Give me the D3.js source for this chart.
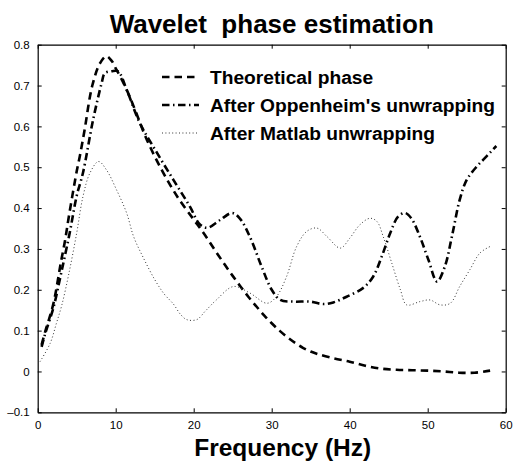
<!DOCTYPE html>
<html><head><meta charset="utf-8">
<script src="https://cdn.jsdelivr.net/npm/d3@7"></script>
<style>body{margin:0;background:#fff}svg{display:block}text{font-family:"Liberation Sans",Arial,Helvetica,sans-serif}</style>
</head><body>
<svg id="chart" width="523" height="465"></svg>
<script>
const xTicks = [0,10,20,30,40,50,60];
const yTicks = [-0.1,0,0.1,0.2,0.3,0.4,0.5,0.6,0.7,0.8];

const theoFreq = [0.5,1,2,3,3.5,4,5,5.4,6,7,8,8.8,9.5,10,10.55,11.4,12.3,14,16,18,20,21,22,23,24,25,26,27,28,29,30,31,32,33,34,35,36,38,40,42,44,46,48,50,52,54,56,58];
const theoVal  = [0.065,0.1,0.165,0.27,0.32,0.38,0.49,0.527,0.59,0.70,0.755,0.772,0.76,0.742,0.723,0.69,0.649,0.567,0.49,0.425,0.372,0.346,0.318,0.289,0.261,0.234,0.208,0.183,0.16,0.138,0.118,0.1,0.084,0.07,0.058,0.049,0.042,0.032,0.024,0.014,0.007,0.004,0.003,0.002,0.0,-0.003,-0.003,0.002];

const oppFreq = [0.5,1,2,3,4.1,5,5.8,7.1,8.2,8.6,9.5,10.3,11.4,13.1,15.3,17.4,19.5,20.8,21.8,23.4,24.9,25.9,27.2,28.7,30,31.1,32.8,34.9,36.6,37.9,39.6,41.7,43,44.1,45.2,46.2,47.1,47.9,49,50.1,51.2,52.2,53.1,54.1,55,56.3,57.1,58.2,58.8];
const oppVal  = [0.06,0.095,0.155,0.24,0.339,0.43,0.486,0.616,0.706,0.73,0.735,0.735,0.69,0.608,0.535,0.469,0.404,0.36,0.352,0.371,0.388,0.375,0.33,0.257,0.2,0.175,0.171,0.171,0.165,0.169,0.183,0.204,0.232,0.281,0.339,0.379,0.388,0.375,0.33,0.273,0.22,0.257,0.33,0.42,0.469,0.502,0.518,0.54,0.552];

const matFreq = [0.3,1.6,2.4,3.1,4,5,5.8,6.7,7.8,8.8,10.1,11.4,12.3,13.5,15,16.2,17.4,18.3,19.1,20.4,21.5,22.9,25.1,27.2,29.4,30.6,31.9,33.2,34.5,35.8,37.1,38.8,40,41.3,42.6,43.5,44.3,45.4,46.5,47.3,49,50.3,51.6,52.9,54.1,55.4,56.7,58];
const matVal  = [0.024,0.069,0.118,0.163,0.24,0.339,0.428,0.486,0.514,0.494,0.445,0.388,0.33,0.28,0.225,0.19,0.165,0.14,0.127,0.127,0.148,0.175,0.208,0.192,0.167,0.183,0.232,0.306,0.343,0.351,0.33,0.302,0.326,0.359,0.375,0.367,0.33,0.265,0.2,0.163,0.171,0.175,0.163,0.167,0.208,0.249,0.29,0.306];

const legendLabels = ["Theoretical phase","After Oppenheim's unwrapping","After Matlab unwrapping"];
const titleText = "Wavelet\u00a0\u00a0phase estimation";
const xLabel = "Frequency (Hz)";

const L=37.7, R=505.7, T=44.7, B=412.3;
const svg = d3.select("#chart");
const x = d3.scaleLinear().domain([0,60]).range([L,R]);
const y = d3.scaleLinear().domain([-0.1,0.8]).range([B,T]);

function yf(d){ if (Math.abs(d)<1e-9) return "0"; return (d<0?"\u2013":"")+Math.abs(d).toFixed(1); }

const gx = svg.append("g").attr("transform",`translate(0,${B})`)
  .call(d3.axisBottom(x).tickValues(xTicks).tickSizeInner(-4).tickSizeOuter(0).tickPadding(9).tickFormat(d3.format("d")));
const gy = svg.append("g").attr("transform",`translate(${L},0)`)
  .call(d3.axisLeft(y).tickValues(yTicks).tickSizeInner(-4).tickSizeOuter(0).tickPadding(8).tickFormat(yf));
const gt = svg.append("g").attr("transform",`translate(0,${T})`)
  .call(d3.axisTop(x).tickValues(xTicks).tickSizeInner(-4).tickSizeOuter(0).tickFormat(""));
const gr = svg.append("g").attr("transform",`translate(${R},0)`)
  .call(d3.axisRight(y).tickValues(yTicks).tickSizeInner(-4).tickSizeOuter(0).tickFormat(""));
[gx,gy,gt,gr].forEach(g=>{
  g.selectAll("path.domain").attr("stroke","#000").attr("stroke-width",1.2);
  g.selectAll(".tick line").attr("stroke","#000");
  g.selectAll("text").attr("font-size","11.5px").attr("fill","#000").attr("font-family",'"Liberation Sans",Arial,sans-serif');
});

const styles = [
  {w:2.6, dash:"7.5,5", col:"#000"},
  {w:2.6, dash:"7.5,3.5,1.5,3.5", col:"#000"},
  {w:1, dash:"1,2.4", col:"#333"}
];
const series = [[theoFreq,theoVal],[oppFreq,oppVal],[matFreq,matVal]];
const line = d3.line().x(d=>x(d[0])).y(d=>y(d[1])).curve(d3.curveCatmullRom.alpha(0.5));
series.forEach((s,i)=>{
  const pts = s[0].map((f,j)=>[f,s[1][j]]);
  svg.append("path").datum(pts).attr("d",line).attr("fill","none")
    .attr("stroke",styles[i].col).attr("stroke-width",styles[i].w).attr("stroke-dasharray",styles[i].dash);
});

const legY = [77,105,133];
legendLabels.forEach((lab,i)=>{
  svg.append("line").attr("x1",162).attr("x2",199).attr("y1",legY[i]).attr("y2",legY[i])
    .attr("stroke",styles[i].col).attr("stroke-width",styles[i].w).attr("stroke-dasharray",styles[i].dash);
  svg.append("text").attr("x",210).attr("y",legY[i]+6.5).attr("font-size","19.2px").attr("font-weight","bold").text(lab);
});

svg.append("text").attr("x",(L+R)/2).attr("y",33).attr("text-anchor","middle").attr("font-size","26px").attr("font-weight","bold").text(titleText);
svg.append("text").attr("x",(L+R)/2+11).attr("y",456).attr("text-anchor","middle").attr("font-size","24.5px").attr("font-weight","bold").text(xLabel);
</script>
</body></html>
